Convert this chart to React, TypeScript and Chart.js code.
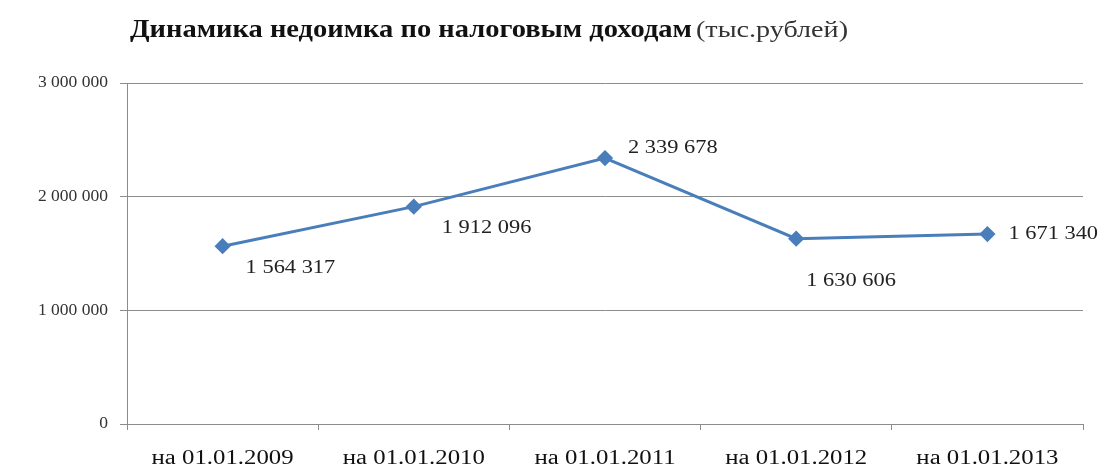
import React, { useEffect, useRef } from "react";
import { Chart, registerables } from "chart.js";

Chart.register(...registerables);

const categories = ["на 01.01.2009", "на 01.01.2010", "на 01.01.2011", "на 01.01.2012", "на 01.01.2013"];
const arrears = [1564317, 1912096, 2339678, 1630606, 1671340];
const yTicks = [0, 1000000, 2000000, 3000000];
const titleBold = "Динамика недоимка по налоговым доходам";
const titleNormal = "(тыс.рублей)";

// label placement relative to the point (dx to left edge of text, dy to text middle)
const labelOffsets: [number, number][] = [
  [23, 22],
  [28, 21],
  [23, -10],
  [10, 42],
  [21, 0],
];

const fmt = (v: number) => String(Math.round(v)).replace(/\B(?=(\d{3})+(?!\d))/g, " ");

const SERIF = "'Liberation Serif', 'DejaVu Serif', serif";

function drawText(
  ctx: CanvasRenderingContext2D,
  text: string,
  x: number,
  y: number,
  font: string,
  color: string,
  sx: number,
  align: "left" | "center" | "right"
) {
  ctx.save();
  ctx.font = font;
  ctx.fillStyle = color;
  ctx.textBaseline = "middle";
  ctx.textAlign = align;
  ctx.translate(x, y);
  ctx.scale(sx, 1);
  ctx.fillText(text, 0, 0);
  ctx.restore();
}

const overlayPlugin = {
  id: "overlay",
  afterDraw(chart: any) {
    const ctx = chart.ctx as CanvasRenderingContext2D;
    // title
    ctx.save();
    ctx.font = `bold 25px ${SERIF}`;
    const wb = ctx.measureText(titleBold).width;
    ctx.font = `23px ${SERIF}`;
    const wn = ctx.measureText(titleNormal).width;
    ctx.restore();
    drawText(ctx, titleBold, 130, 31, `bold 25px ${SERIF}`, "#111", 562 / wb, "left");
    drawText(ctx, titleNormal, 696, 31, `23px ${SERIF}`, "#333", 152 / wn, "left");

    // y tick labels
    const ys = chart.scales.y;
    yTicks.forEach((v) => {
      drawText(ctx, fmt(v), 108, ys.getPixelForValue(v), `17px ${SERIF}`, "#333", 1.03, "right");
    });

    // x tick labels
    const xs = chart.scales.x;
    categories.forEach((c, i) => {
      drawText(ctx, c, xs.getPixelForValue(i), 459, `20px ${SERIF}`, "#111", 1.24, "center");
    });

    // data labels
    const meta = chart.getDatasetMeta(0);
    meta.data.forEach((el: any, i: number) => {
      const [dx, dy] = labelOffsets[i];
      drawText(ctx, fmt(arrears[i]), el.x + dx, el.y + dy, `19px ${SERIF}`, "#222", 1.18, "left");
    });
  },
};

export default function App() {
  const ref = useRef<HTMLCanvasElement>(null);
  useEffect(() => {
    if (!ref.current) return;
    const chart = new Chart(ref.current, {
      type: "line",
      data: {
        labels: categories,
        datasets: [
          {
            data: arrears,
            borderColor: "#4A7EBB",
            backgroundColor: "#4A7EBB",
            borderWidth: 3,
            pointStyle: "rectRot",
            pointRadius: 6,
            pointHoverRadius: 6,
            tension: 0,
            fill: false,
          },
        ],
      },
      options: {
        animation: false,
        responsive: false,
        devicePixelRatio: 1,
        layout: { padding: { left: 0, right: 22, top: 83, bottom: 0 } },
        plugins: {
          legend: { display: false },
          title: { display: false },
          tooltip: { enabled: false },
        },
        scales: {
          x: {
            offset: true,
            grid: {
              offset: true,
              drawOnChartArea: false,
              drawTicks: true,
              tickLength: 6,
              color: "#8c8c8c",
            },
            border: { color: "#8c8c8c", width: 1 },
            ticks: { display: false, autoSkip: false, maxRotation: 0 },
            afterFit: (scale: any) => {
              scale.height = 42;
            },
          },
          y: {
            min: 0,
            max: 3000000,
            afterBuildTicks: (scale: any) => {
              scale.ticks = yTicks.map((v) => ({ value: v }));
            },
            grid: {
              color: "#8c8c8c",
              tickLength: 7,
              lineWidth: 1,
            },
            border: { color: "#8c8c8c", width: 1 },
            ticks: { display: false },
            afterFit: (scale: any) => {
              scale.width = 127;
            },
          },
        },
      },
      plugins: [overlayPlugin],
    });
    return () => chart.destroy();
  }, []);
  return (
    <div style={{ position: "fixed", left: 0, top: 0, width: 1105, height: 466, background: "#fff" }}>
      <canvas ref={ref} width={1105} height={466} style={{ width: 1105, height: 466, display: "block" }} />
    </div>
  );
}
